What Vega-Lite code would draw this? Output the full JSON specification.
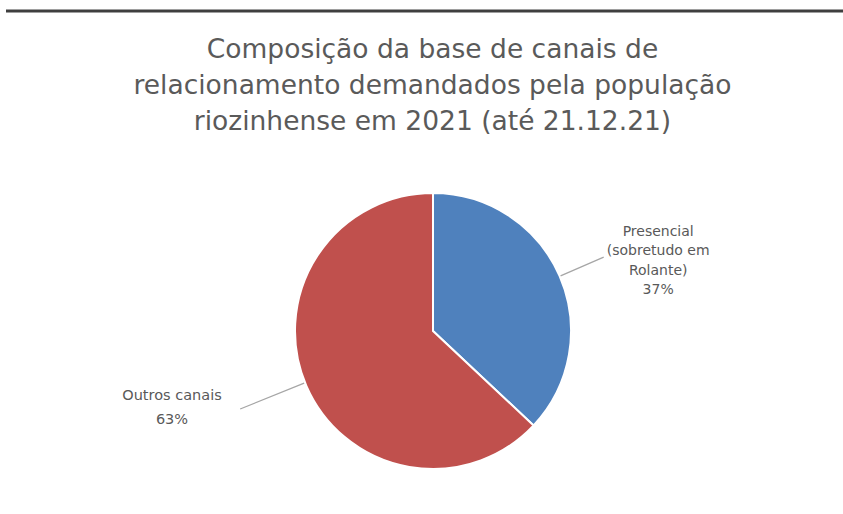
{
  "$schema": "https://vega.github.io/schema/vega-lite/v6.json",
  "autosize": "none",
  "width": 837,
  "height": 503,
  "padding": {"top": 11, "left": 6, "right": 0, "bottom": 0},
  "background": "white",
  "view": {"stroke": "#3f3f3f", "strokeWidth": 3, "strokeDash": [837, 3000]},
  "config": {
    "font": "DejaVu Sans"
  },
  "title": {
    "text": ["Composição da base de canais de", "relacionamento demandados pela população", "riozinhense em 2021 (até 21.12.21)"],
    "fontSize": 26.5,
    "fontWeight": "normal",
    "color": "#5a5a5a",
    "lineHeight": 36,
    "anchor": "middle",
    "frame": "group",
    "offset": -124,
    "dx": 8
  },
  "data": {
    "values": [
      {"canal": "Presencial (sobretudo em Rolante)", "valor": 37, "meio": 18.5, "ordem": 1, "rotulo": "Presencial\n(sobretudo em\nRolante)\n37%"},
      {"canal": "Outros canais", "valor": 63, "meio": 68.5, "ordem": 2, "rotulo": "Outros canais\n63%"}
    ]
  },
  "layer": [
    {
      "mark": {"type": "arc", "radius": 138, "stroke": "white", "strokeWidth": 2, "xOffset": 8.5, "yOffset": 68.5},
      "encoding": {
        "theta": {"field": "valor", "type": "quantitative", "stack": true, "scale": {"domain": [0, 100]}},
        "color": {"field": "canal", "type": "nominal", "scale": {"domain": ["Presencial (sobretudo em Rolante)", "Outros canais"], "range": ["#4F81BD", "#C0504D"]}, "legend": null},
        "order": {"field": "ordem", "type": "quantitative"}
      }
    },
    {
      "transform": [{"filter": "datum.ordem == 1"}],
      "mark": {"type": "arc", "radius": 186, "radius2": 139, "filled": false, "stroke": "#a6a6a6", "strokeWidth": 1.3, "xOffset": 8.5, "yOffset": 68.5},
      "encoding": {
        "theta": {"field": "meio", "type": "quantitative", "stack": null},
        "theta2": {"field": "meio"}
      }
    },
    {
      "transform": [{"filter": "datum.ordem == 2"}],
      "mark": {"type": "arc", "radius": 208, "radius2": 139, "thetaOffset": 0.024, "theta2Offset": 0.024, "filled": false, "stroke": "#a6a6a6", "strokeWidth": 1.3, "xOffset": 8.5, "yOffset": 68.5},
      "encoding": {
        "theta": {"field": "meio", "type": "quantitative", "stack": null},
        "theta2": {"field": "meio"}
      }
    },
    {
      "transform": [{"filter": "datum.ordem == 1"}],
      "mark": {"type": "text", "radius": 246, "thetaOffset": -0.006, "align": "center", "baseline": "middle", "fontSize": 14, "lineHeight": 19.5, "color": "#595959", "lineBreak": "\n", "xOffset": 8.5, "yOffset": 68.5},
      "encoding": {
        "theta": {"field": "meio", "type": "quantitative", "stack": null},
        "text": {"field": "rotulo"}
      }
    },
    {
      "transform": [{"filter": "datum.ordem == 2"}],
      "mark": {"type": "text", "radius": 269, "thetaOffset": 0.164, "align": "center", "baseline": "middle", "fontSize": 14.5, "lineHeight": 24, "color": "#595959", "lineBreak": "\n", "xOffset": 8.5, "yOffset": 68.5},
      "encoding": {
        "theta": {"field": "meio", "type": "quantitative", "stack": null},
        "text": {"field": "rotulo"}
      }
    }
  ]
}
